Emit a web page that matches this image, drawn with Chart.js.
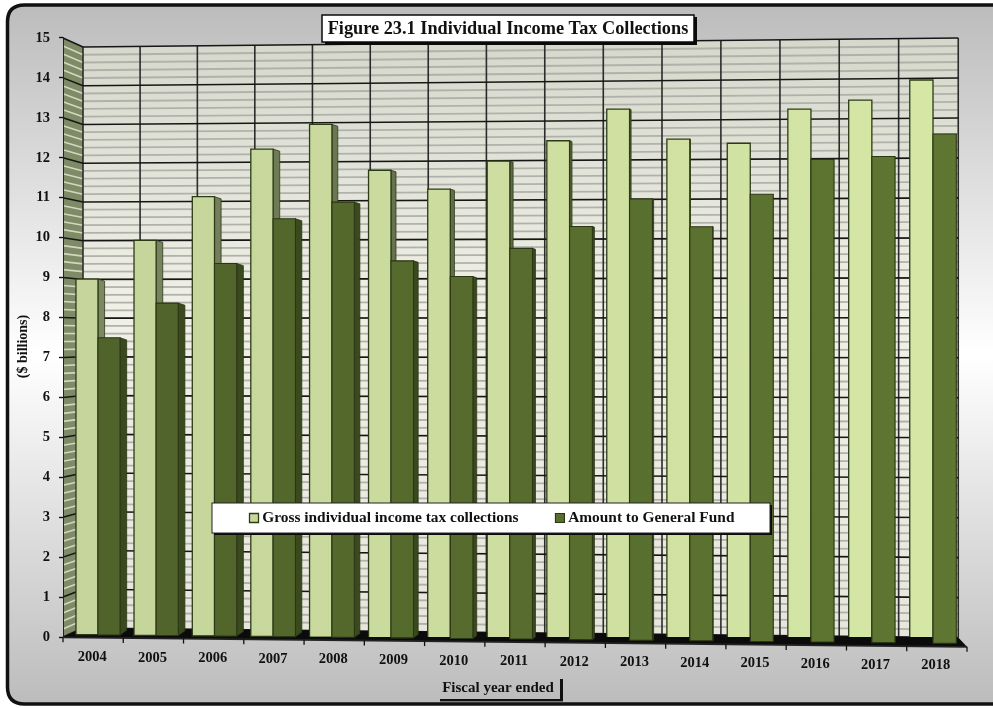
<!DOCTYPE html>
<html>
<head>
<meta charset="utf-8">
<title>Individual Income Tax Collections</title>
<style>
  html, body { margin: 0; padding: 0; background: #fff; }
  canvas { display: block; }
</style>
<script src="https://cdn.jsdelivr.net/npm/chart.js@4/dist/chart.umd.min.js"></script>
</head>
<body>
<canvas id="chart" width="993" height="708"></canvas>
<script>
// Fiscal years and collections, $ billions
const fiscalYears = ['2004','2005','2006','2007','2008','2009','2010','2011','2012','2013','2014','2015','2016','2017','2018'];
const grossCollections = [8.97, 9.95, 11.05, 12.25, 12.87, 11.72, 11.25, 11.95, 12.46, 13.25, 12.5, 12.4, 13.25, 13.47, 13.97];
const generalFund = [7.49, 8.37, 9.37, 10.5, 10.92, 9.45, 9.06, 9.77, 10.32, 11.01, 10.32, 11.13, 12.0, 12.07, 12.63];
const grossLabel = 'Gross individual income tax collections';
const fundLabel = 'Amount to General Fund';
const chartTitle = 'Figure 23.1 Individual Income Tax Collections';
const yTitle = '($ billions)';
const xTitle = 'Fiscal year ended';

const SERIF = '"Liberation Serif", "Times New Roman", serif';
const INK = '#111';

// Perspective of the 3-D box. The library's scales supply straight positions;
// these helpers bend them onto the back wall, the floor and the bar plane.
const lerp = (a, b, t) => a + (b - a) * t;
const wallX = u => 83 + 57 * u + 0.09 * u * u;
const wallBottom = X => 628 + (X - 83) * 9.6 / 875;
const wallTop = X => 47 - (X - 83) * 9 / 875;
const frontEdge = X => 637.3 + (X - 63) * 9.5 / 904;
const barX = u => 98 + 58.02 * (u - 0.5) + 0.116 * (u - 0.5) * (u - 0.5);
const barBottom = X => 634.7 + (X - 86) * 8.3 / 834;
const barScale = X => 39.65 + (X - 86) * 0.65 / 834;
const barDepth = X => X < 280 ? 6.6 : Math.max(0, 6.6 - (X - 280) * 0.0145);

function hGradient(ctx, from, to) {
  const g = ctx.createLinearGradient(63, 0, 967, 0);
  g.addColorStop(0, from);
  g.addColorStop(1, to);
  return g;
}

// Bars are drawn as 3-D columns standing on the tilted floor
Chart.defaults.elements.bar.sideColor = '#444';
const BarElement = Chart.registry.getElement('bar');
BarElement.prototype.draw = function (ctx) {
  const chart = Chart.getChart(ctx.canvas);
  const xs = chart.scales.x, ys = chart.scales.y;
  const step = xs.width / xs.ticks.length;
  const uL = (this.x - this.width / 2 - xs.left) / step;
  const uR = (this.x + this.width / 2 - xs.left) / step;
  const L = barX(uL), R = barX(uR);
  const mid = (L + R) / 2;
  const value = ys.getValueForPixel(this.y);
  const base = barBottom(mid);
  const top = base - value * barScale(mid);
  const d = barDepth(R);
  const o = this.options;

  ctx.save();
  if (d > 0.2) {
    ctx.beginPath();
    ctx.moveTo(R, top);
    ctx.lineTo(R + d, top + d * 0.32);
    ctx.lineTo(R + d, base - d * 0.7);
    ctx.lineTo(R, base);
    ctx.closePath();
    ctx.fillStyle = o.sideColor;
    ctx.fill();
    ctx.lineWidth = 0.8;
    ctx.strokeStyle = o.borderColor;
    ctx.stroke();
  }
  ctx.beginPath();
  ctx.rect(L, top, R - L, base - top);
  ctx.fillStyle = o.backgroundColor;
  ctx.fill();
  ctx.lineWidth = o.borderWidth;
  ctx.strokeStyle = o.borderColor;
  ctx.stroke();
  ctx.restore();
};

function drawRoundedPanel(ctx, W, H) {
  const r = 17, x0 = 7.5, y0 = 5, x1 = W + 20, y1 = H - 4;
  const g = ctx.createLinearGradient(0, y0, 0, y1);
  g.addColorStop(0, '#bcbcbc');
  g.addColorStop(0.5, '#ffffff');
  g.addColorStop(1, '#bcbcbc');
  ctx.beginPath();
  ctx.moveTo(x0 + r, y0);
  ctx.lineTo(x1, y0);
  ctx.lineTo(x1, y1);
  ctx.lineTo(x0 + r, y1);
  ctx.quadraticCurveTo(x0, y1, x0, y1 - r);
  ctx.lineTo(x0, y0 + r);
  ctx.quadraticCurveTo(x0, y0, x0 + r, y0);
  ctx.closePath();
  ctx.fillStyle = g;
  ctx.fill();
  ctx.lineWidth = 3.5;
  ctx.strokeStyle = '#111';
  ctx.stroke();
}

function line(ctx, x1, y1, x2, y2, color, width) {
  ctx.beginPath();
  ctx.moveTo(x1, y1);
  ctx.lineTo(x2, y2);
  ctx.strokeStyle = color;
  ctx.lineWidth = width;
  ctx.stroke();
}

function drawBox(ctx, chart) {
  const { x: xs, y: ys } = chart.scales;
  const n = xs.ticks.length;
  const step = xs.width / n;
  const XL = wallX(0), XR = wallX(n);
  const fracOf = v => (ys.bottom - ys.getPixelForValue(v)) / (ys.bottom - ys.top);

  // back wall
  const wall = ctx.createLinearGradient(0, 40, 0, 640);
  wall.addColorStop(0, '#d6d8cc');
  wall.addColorStop(0.45, '#f0f0e6');
  wall.addColorStop(1, '#e6e6dc');
  ctx.beginPath();
  ctx.moveTo(XL, wallTop(XL));
  ctx.lineTo(XR, wallTop(XR));
  ctx.lineTo(XR, wallBottom(XR));
  ctx.lineTo(XL, wallBottom(XL));
  ctx.closePath();
  ctx.fillStyle = wall;
  ctx.fill();

  // left side wall
  ctx.beginPath();
  ctx.moveTo(xs.left, ys.top);
  ctx.lineTo(XL, wallTop(XL));
  ctx.lineTo(XL, wallBottom(XL));
  ctx.lineTo(xs.left, ys.bottom);
  ctx.closePath();
  ctx.fillStyle = '#7f8a66';
  ctx.fill();

  const maxV = ys.max;
  const wallLine = (v, color, width, sideColor, sideWidth) => {
    const f = fracOf(v);
    const yAt = X => lerp(wallBottom(X), wallTop(X), f);
    line(ctx, XL, yAt(XL), XR, yAt(XR), color, width);
    line(ctx, xs.left, lerp(ys.bottom, ys.top, f), XL, yAt(XL), sideColor, sideWidth);
  };
  // minor rules, five to a unit
  for (let i = 0; i < maxV; i++) {
    for (let k = 1; k < 5; k++) wallLine(i + k / 5, '#b0b1ab', 1.8, '#d3d6c0', 1.6);
  }
  // column rules
  for (let i = 0; i <= n; i++) {
    const X = wallX((xs.getPixelForValue(i) - step / 2 - xs.left) / step);
    line(ctx, X, wallTop(X), X, wallBottom(X), '#2b2b2b', 1.6);
  }
  // major rules at every tick
  ys.ticks.forEach(t => wallLine(t.value, '#161616', 1.6, '#161616', 1.5));

  // black floor and its front edge with tick marks
  ctx.beginPath();
  ctx.moveTo(xs.left, frontEdge(xs.left));
  ctx.lineTo(XL, wallBottom(XL));
  ctx.lineTo(XR, wallBottom(XR));
  ctx.lineTo(xs.right, frontEdge(xs.right));
  ctx.closePath();
  ctx.fillStyle = '#0b0b0b';
  ctx.fill();
  line(ctx, xs.left, frontEdge(xs.left), xs.right, frontEdge(xs.right), '#222', 1.8);
  for (let i = 0; i <= n; i++) {
    const X = xs.getPixelForValue(i) - step / 2;
    line(ctx, X, frontEdge(X), X, frontEdge(X) + 5, '#111', 1.3);
  }
}

const perspectivePlugin = {
  id: 'perspective',
  beforeLayout(chart) {
    // the legend floats over the bars, so it takes no room in the layout
    const legend = chart.legend;
    if (!legend.$floating) {
      legend.$floating = true;
      const fit = legend.fit;
      legend.fit = function () { fit.call(this); this.height = 0; };
      legend._layers = () => [{ z: 1, draw: area => legend.draw(area) }];

      // the title sits in its box, right of the page centre
      const block = chart.titleBlock;
      block._layers = () => [{
        z: 0,
        draw: area => {
          block.ctx.save();
          block.ctx.translate(24.5, 2);
          block.draw(area);
          block.ctx.restore();
        }
      }];
    }
  },
  afterLayout(chart) {
    const { x: xs, y: ys } = chart.scales;

    // x labels follow the tilted front edge
    xs.getLabelItems().forEach(item => {
      const t = item.options.translation;
      t[1] += (t[0] - 92) * 8.3 / 843.5;
      t[0] -= 1;
    });

    // axis titles sit off-centre
    const shift = (scale, dx, dy) => {
      if (scale.$shifted) return;
      scale.$shifted = true;
      const original = scale.drawTitle.bind(scale);
      scale.drawTitle = () => {
        scale.ctx.save();
        scale.ctx.translate(dx, dy);
        original();
        scale.ctx.restore();
      };
    };
    shift(xs, -17, -11);
    shift(ys, 14.6, 9);

    const legend = chart.legend;
    const pad = legend.options.labels.padding;
    const size = legend.options.labels.font.size;
    legend.left = 253.5 - pad;
    legend.right = 990;
    legend.top = 518 - pad - size / 2;
    legend.bottom = 540;
  },
  beforeDraw(chart) {
    const ctx = chart.ctx;
    ctx.save();
    drawRoundedPanel(ctx, chart.width, chart.height);
    drawBox(ctx, chart);

    // title box with a hard shadow
    ctx.fillStyle = '#0a0a0a';
    ctx.fillRect(325, 17, 372, 28);
    ctx.fillStyle = '#fff';
    ctx.fillRect(322, 15, 372, 27);
    ctx.strokeStyle = '#0a0a0a';
    ctx.lineWidth = 1.5;
    ctx.strokeRect(322, 15, 372, 27);

    // underline and right rule of the x-axis caption
    ctx.fillStyle = '#111';
    ctx.fillRect(440, 699, 123, 2.4);
    ctx.fillRect(560, 679, 3, 22);
    ctx.restore();
  },
  beforeDatasetDraw(chart, args) {
    // the darker series stands in front, so it is painted after the light one
    if (args.index === 1) return false;
  },
  afterDatasetsDraw(chart) {
    chart.getDatasetMeta(1).controller.draw();

    // legend plate
    const ctx = chart.ctx;
    ctx.save();
    ctx.fillStyle = '#0a0a0a';
    ctx.fillRect(214, 505, 558, 30);
    ctx.fillStyle = '#fff';
    ctx.fillRect(212, 503, 558, 30);
    ctx.strokeStyle = '#222';
    ctx.lineWidth = 1;
    ctx.strokeRect(212, 503, 558, 30);
    ctx.restore();
  }
};

const canvas = document.getElementById('chart');
const g2d = canvas.getContext('2d');

new Chart(canvas, {
  type: 'bar',
  plugins: [perspectivePlugin],
  data: {
    labels: fiscalYears,
    datasets: [
      {
        label: grossLabel,
        data: grossCollections,
        backgroundColor: hGradient(g2d, '#c4d49a', '#d6e8a6'),
        sideColor: hGradient(g2d, '#7f8b66', '#3c4726'),
        borderColor: '#2c3a16',
        borderWidth: 1.3
      },
      {
        label: fundLabel,
        data: generalFund,
        backgroundColor: hGradient(g2d, '#4f622a', '#5f7732'),
        sideColor: '#3a4a1e',
        borderColor: '#2a3614',
        borderWidth: 1.1
      }
    ]
  },
  options: {
    responsive: false,
    animation: false,
    events: [],
    layout: { padding: { left: 0, right: 26, top: 16, bottom: 0 } },
    datasets: { bar: { categoryPercentage: 0.76, barPercentage: 1 } },
    scales: {
      x: {
        grid: { display: false },
        border: { display: false },
        ticks: { color: INK, padding: 3.5, maxRotation: 0, font: { family: SERIF, size: 14.5, weight: 'bold' } },
        title: { display: true, text: xTitle, color: INK, padding: 0, font: { family: SERIF, size: 15, weight: 'bold' } },
        afterFit(s) { s.height = 71; }
      },
      y: {
        min: 0,
        max: 15,
        grid: { drawOnChartArea: false, tickLength: 4, tickColor: '#111', tickWidth: 1.4 },
        border: { display: true, color: '#222', width: 1 },
        ticks: { stepSize: 1, color: INK, padding: 9, font: { family: SERIF, size: 14.5, weight: 'bold' } },
        title: { display: true, text: yTitle, color: INK, padding: 0, font: { family: SERIF, size: 14, weight: 'bold' } },
        afterFit(s) { s.width = 63; }
      }
    },
    plugins: {
      tooltip: { enabled: false },
      title: {
        display: true,
        text: chartTitle,
        color: INK,
        padding: 0,
        font: { family: SERIF, size: 18.3, weight: 'bold' }
      },
      legend: {
        position: 'bottom',
        align: 'start',
        labels: {
          color: INK,
          usePointStyle: true,
          pointStyle: 'rect',
          boxWidth: 1,
          boxHeight: 9,
          padding: 41,
          font: { family: SERIF, size: 15.4, weight: 'bold' }
        }
      }
    }
  }
});
</script>
</body>
</html>
